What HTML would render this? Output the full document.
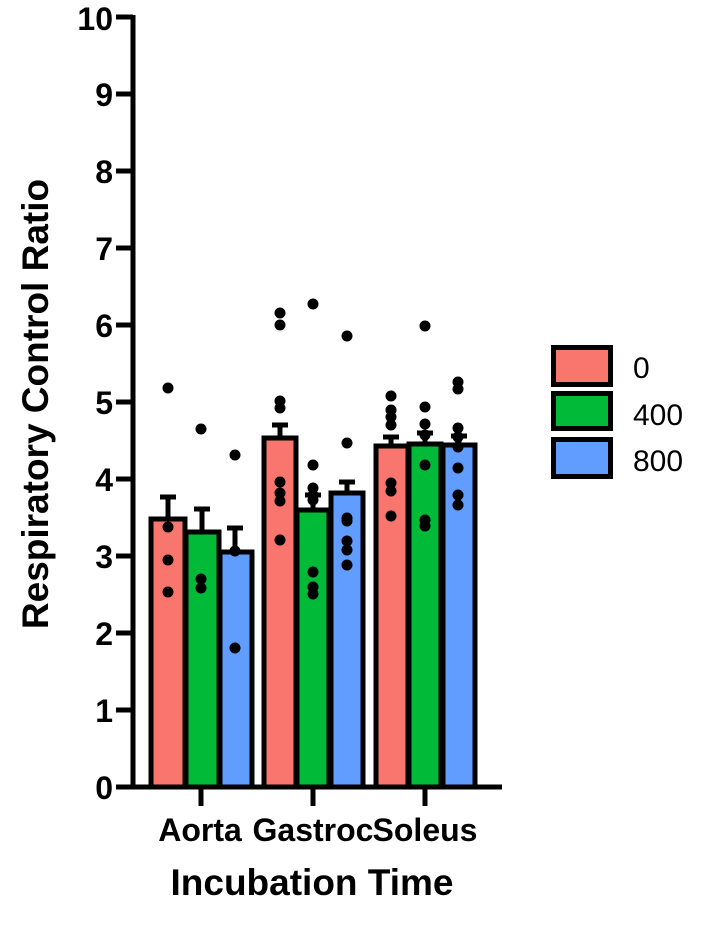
<!DOCTYPE html>
<html><head><style>body{margin:0;background:#fff}</style></head><body>
<svg width="720" height="921" xmlns="http://www.w3.org/2000/svg" font-family="Liberation Sans, Arial, sans-serif">
<g stroke="#000" stroke-width="5">
<rect x="151" y="519" width="34" height="268" fill="#F8766D"/>
<rect x="186" y="532" width="33" height="255" fill="#00BA38"/>
<rect x="220" y="552" width="32" height="235" fill="#619CFF"/>
<rect x="264" y="438" width="32" height="349" fill="#F8766D"/>
<rect x="297" y="510" width="32" height="277" fill="#00BA38"/>
<rect x="331" y="493" width="32" height="294" fill="#619CFF"/>
<rect x="376" y="446" width="32" height="341" fill="#F8766D"/>
<rect x="409" y="444" width="32" height="343" fill="#00BA38"/>
<rect x="443" y="445" width="32" height="342" fill="#619CFF"/>
<path d="M168 519V497M160 497H176M202 532V509M194 509H210M235 552V528M227 528H243M280 438V425M272 425H288M313 510V495M305 495H321M347 493V482M339 482H355M391 446V437M383 437H399M425 444V433M417 433H433M459 445V436M451 436H467" fill="none"/>
<path d="M133 15V789M131 787H502M116 787H133M116 710H133M116 633H133M116 556H133M116 479H133M116 402H133M116 325H133M116 248H133M116 171H133M116 94H133M116 17H133M201 787V806M313 787V806M425 787V806" fill="none"/>
<rect x="553.5" y="347.5" width="57" height="37" fill="#F8766D"/>
<rect x="553.5" y="393.5" width="57" height="35" fill="#00BA38"/>
<rect x="553.5" y="439.5" width="57" height="37" fill="#619CFF"/>
</g>
<g fill="#000">
<circle cx="168" cy="388" r="5.5"/><circle cx="168" cy="527" r="5.5"/><circle cx="168" cy="560" r="5.5"/><circle cx="168" cy="592" r="5.5"/>
<circle cx="201" cy="429" r="5.5"/><circle cx="201" cy="579" r="5.5"/><circle cx="201" cy="588" r="5.5"/>
<circle cx="235" cy="455" r="5.5"/><circle cx="235" cy="551" r="5.5"/><circle cx="235" cy="648" r="5.5"/>
<circle cx="280" cy="313" r="5.5"/><circle cx="280" cy="325" r="5.5"/><circle cx="280" cy="401" r="5.5"/><circle cx="280" cy="408" r="5.5"/><circle cx="280" cy="482" r="5.5"/><circle cx="280" cy="493" r="5.5"/><circle cx="280" cy="501" r="5.5"/><circle cx="280" cy="540" r="5.5"/>
<circle cx="313" cy="304" r="5.5"/><circle cx="313" cy="465" r="5.5"/><circle cx="313" cy="488" r="5.5"/><circle cx="313" cy="495" r="5.5"/><circle cx="313" cy="500" r="5.5"/><circle cx="313" cy="572" r="5.5"/><circle cx="313" cy="587" r="5.5"/><circle cx="313" cy="594" r="5.5"/>
<circle cx="347" cy="336" r="5.5"/><circle cx="347" cy="443" r="5.5"/><circle cx="347" cy="518" r="5.5"/><circle cx="347" cy="521" r="5.5"/><circle cx="347" cy="541" r="5.5"/><circle cx="347" cy="550" r="5.5"/><circle cx="347" cy="565" r="5.5"/>
<circle cx="391" cy="396" r="5.5"/><circle cx="391" cy="410" r="5.5"/><circle cx="391" cy="417" r="5.5"/><circle cx="391" cy="425" r="5.5"/><circle cx="391" cy="483" r="5.5"/><circle cx="391" cy="491" r="5.5"/><circle cx="391" cy="516" r="5.5"/>
<circle cx="425" cy="326" r="5.5"/><circle cx="425" cy="407" r="5.5"/><circle cx="425" cy="424" r="5.5"/><circle cx="425" cy="435" r="5.5"/><circle cx="425" cy="465" r="5.5"/><circle cx="425" cy="520" r="5.5"/><circle cx="425" cy="526" r="5.5"/>
<circle cx="458" cy="382" r="5.5"/><circle cx="458" cy="389" r="5.5"/><circle cx="458" cy="428" r="5.5"/><circle cx="458" cy="437" r="5.5"/><circle cx="458" cy="447" r="5.5"/><circle cx="458" cy="468" r="5.5"/><circle cx="458" cy="495" r="5.5"/><circle cx="458" cy="505" r="5.5"/>
</g>
<g font-size="32" font-weight="bold" text-anchor="end" fill="#000">
<text x="113" y="799">0</text><text x="113" y="722">1</text><text x="113" y="645">2</text><text x="113" y="568">3</text><text x="113" y="491">4</text><text x="113" y="414">5</text><text x="113" y="337">6</text><text x="113" y="260">7</text><text x="113" y="183">8</text><text x="113" y="106">9</text><text x="113" y="30">10</text>
</g>
<g font-size="32" font-weight="bold" text-anchor="middle" fill="#000">
<text x="200" y="841">Aorta</text><text x="313" y="841">Gastroc</text><text x="425" y="841">Soleus</text>
<text x="312" y="895" font-size="37">Incubation Time</text>
<text transform="translate(48,404) rotate(-90)" font-size="37">Respiratory Control Ratio</text>
</g>
<g font-size="30" fill="#000">
<text x="633" y="378">0</text><text x="633" y="425">400</text><text x="633" y="471">800</text>
</g>
</svg>
</body></html>
